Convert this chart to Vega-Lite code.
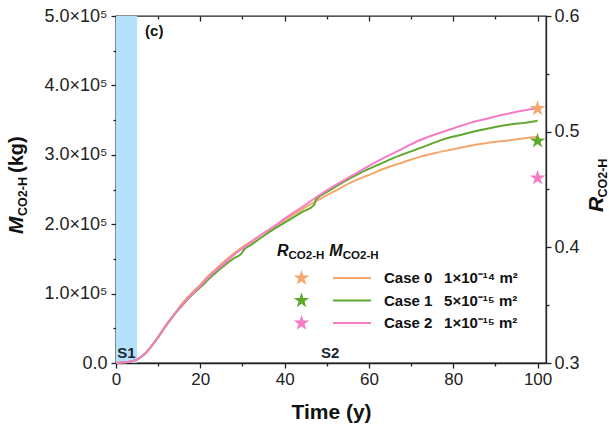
{
  "$schema": "https://vega.github.io/schema/vega-lite/v6.json",
  "width": 430,
  "height": 347,
  "autosize": {"type": "none"},
  "padding": {"left": 116, "top": 16, "right": 63, "bottom": 66},
  "background": "white",
  "config": {
    "font": "Liberation Sans",
    "view": {"stroke": "#222", "strokeWidth": 1.3},
    "axis": {"grid": false, "domainColor": "#222", "tickColor": "#222", "labelColor": "#222", "domainWidth": 1.3, "tickWidth": 1.3, "labelFont": "Liberation Sans", "titleFont": "Liberation Sans", "labelFlush": false}
  },
  "datasets": {
    "lines": [
      {"case": "Case 0", "t": 0, "M": 0}, {"case": "Case 0", "t": 2, "M": 1000}, {"case": "Case 0", "t": 4, "M": 3000}, {"case": "Case 0", "t": 5, "M": 5000}, {"case": "Case 0", "t": 6, "M": 9000}, {"case": "Case 0", "t": 7, "M": 14000}, {"case": "Case 0", "t": 8, "M": 21000}, {"case": "Case 0", "t": 9, "M": 29000}, {"case": "Case 0", "t": 10, "M": 38000}, {"case": "Case 0", "t": 11, "M": 47000}, {"case": "Case 0", "t": 12, "M": 56000}, {"case": "Case 0", "t": 13, "M": 64000}, {"case": "Case 0", "t": 14, "M": 72000}, {"case": "Case 0", "t": 16, "M": 88000}, {"case": "Case 0", "t": 18, "M": 101000}, {"case": "Case 0", "t": 20, "M": 113000}, {"case": "Case 0", "t": 22, "M": 126000}, {"case": "Case 0", "t": 24, "M": 137000}, {"case": "Case 0", "t": 26, "M": 148000}, {"case": "Case 0", "t": 28, "M": 158000}, {"case": "Case 0", "t": 30, "M": 167000}, {"case": "Case 0", "t": 32, "M": 175000}, {"case": "Case 0", "t": 35, "M": 187000}, {"case": "Case 0", "t": 38, "M": 198000}, {"case": "Case 0", "t": 40, "M": 206000}, {"case": "Case 0", "t": 44, "M": 221000}, {"case": "Case 0", "t": 48, "M": 235000}, {"case": "Case 0", "t": 52, "M": 248000}, {"case": "Case 0", "t": 56, "M": 261000}, {"case": "Case 0", "t": 60, "M": 271000}, {"case": "Case 0", "t": 64, "M": 281000}, {"case": "Case 0", "t": 68, "M": 289000}, {"case": "Case 0", "t": 72, "M": 297000}, {"case": "Case 0", "t": 76, "M": 303000}, {"case": "Case 0", "t": 80, "M": 308000}, {"case": "Case 0", "t": 84, "M": 313000}, {"case": "Case 0", "t": 88, "M": 317000}, {"case": "Case 0", "t": 92, "M": 320000}, {"case": "Case 0", "t": 96, "M": 323000}, {"case": "Case 0", "t": 100, "M": 326000},
      {"case": "Case 1", "t": 0, "M": 0}, {"case": "Case 1", "t": 2, "M": 1000}, {"case": "Case 1", "t": 4, "M": 3000}, {"case": "Case 1", "t": 5, "M": 5000}, {"case": "Case 1", "t": 6, "M": 9000}, {"case": "Case 1", "t": 7, "M": 14000}, {"case": "Case 1", "t": 8, "M": 21000}, {"case": "Case 1", "t": 9, "M": 29000}, {"case": "Case 1", "t": 10, "M": 37000}, {"case": "Case 1", "t": 11, "M": 46000}, {"case": "Case 1", "t": 12, "M": 55000}, {"case": "Case 1", "t": 13, "M": 63000}, {"case": "Case 1", "t": 14, "M": 71000}, {"case": "Case 1", "t": 16, "M": 85000}, {"case": "Case 1", "t": 18, "M": 98000}, {"case": "Case 1", "t": 20, "M": 109000}, {"case": "Case 1", "t": 22, "M": 121000}, {"case": "Case 1", "t": 24, "M": 132000}, {"case": "Case 1", "t": 26, "M": 142000}, {"case": "Case 1", "t": 28, "M": 151000}, {"case": "Case 1", "t": 29.8, "M": 158000}, {"case": "Case 1", "t": 30.2, "M": 162000}, {"case": "Case 1", "t": 32, "M": 170000}, {"case": "Case 1", "t": 35, "M": 183000}, {"case": "Case 1", "t": 38, "M": 195000}, {"case": "Case 1", "t": 41, "M": 206000}, {"case": "Case 1", "t": 44, "M": 217000}, {"case": "Case 1", "t": 47, "M": 228000}, {"case": "Case 1", "t": 47.5, "M": 236000}, {"case": "Case 1", "t": 50, "M": 246000}, {"case": "Case 1", "t": 54, "M": 261000}, {"case": "Case 1", "t": 58, "M": 274000}, {"case": "Case 1", "t": 62, "M": 285000}, {"case": "Case 1", "t": 66, "M": 296000}, {"case": "Case 1", "t": 70, "M": 305000}, {"case": "Case 1", "t": 74, "M": 314000}, {"case": "Case 1", "t": 78, "M": 323000}, {"case": "Case 1", "t": 82, "M": 329000}, {"case": "Case 1", "t": 86, "M": 335000}, {"case": "Case 1", "t": 90, "M": 340000}, {"case": "Case 1", "t": 94, "M": 344000}, {"case": "Case 1", "t": 97, "M": 346000}, {"case": "Case 1", "t": 100, "M": 349000},
      {"case": "Case 2", "t": 0, "M": 0}, {"case": "Case 2", "t": 2, "M": 1000}, {"case": "Case 2", "t": 4, "M": 3000}, {"case": "Case 2", "t": 5, "M": 5000}, {"case": "Case 2", "t": 6, "M": 9000}, {"case": "Case 2", "t": 7, "M": 14000}, {"case": "Case 2", "t": 8, "M": 21000}, {"case": "Case 2", "t": 9, "M": 29000}, {"case": "Case 2", "t": 10, "M": 37000}, {"case": "Case 2", "t": 11, "M": 46000}, {"case": "Case 2", "t": 12, "M": 55000}, {"case": "Case 2", "t": 13, "M": 63000}, {"case": "Case 2", "t": 14, "M": 71000}, {"case": "Case 2", "t": 16, "M": 86000}, {"case": "Case 2", "t": 18, "M": 99000}, {"case": "Case 2", "t": 20, "M": 111000}, {"case": "Case 2", "t": 22, "M": 124000}, {"case": "Case 2", "t": 24, "M": 135000}, {"case": "Case 2", "t": 26, "M": 145000}, {"case": "Case 2", "t": 28, "M": 156000}, {"case": "Case 2", "t": 30, "M": 165000}, {"case": "Case 2", "t": 32, "M": 174000}, {"case": "Case 2", "t": 35, "M": 187000}, {"case": "Case 2", "t": 38, "M": 199000}, {"case": "Case 2", "t": 40, "M": 208000}, {"case": "Case 2", "t": 44, "M": 224000}, {"case": "Case 2", "t": 48, "M": 241000}, {"case": "Case 2", "t": 52, "M": 256000}, {"case": "Case 2", "t": 56, "M": 270000}, {"case": "Case 2", "t": 60, "M": 284000}, {"case": "Case 2", "t": 64, "M": 297000}, {"case": "Case 2", "t": 68, "M": 309000}, {"case": "Case 2", "t": 72, "M": 321000}, {"case": "Case 2", "t": 76, "M": 330000}, {"case": "Case 2", "t": 80, "M": 338000}, {"case": "Case 2", "t": 84, "M": 346000}, {"case": "Case 2", "t": 88, "M": 352000}, {"case": "Case 2", "t": 92, "M": 358000}, {"case": "Case 2", "t": 96, "M": 363000}, {"case": "Case 2", "t": 100, "M": 367000}
    ],
    "stars": [
      {"case": "Case 0", "t": 100, "R": 0.52},
      {"case": "Case 1", "t": 100, "R": 0.492},
      {"case": "Case 2", "t": 100, "R": 0.46}
    ],
    "one": [{}]
  },
  "resolve": {"scale": {"y": "independent"}},
  "layer": [
    {
      "resolve": {"axis": {"x": "independent", "y": "independent"}},
      "layer": [
        {
          "data": {"name": "one"},
          "mark": {"type": "rect", "color": "#b5e1fa"},
          "encoding": {
            "x": {"datum": 0, "type": "quantitative", "scale": {"domain": [0, 102], "nice": false, "zero": false},
                  "axis": {"orient": "bottom", "values": [10, 30, 50, 70, 90], "tickSize": 3, "labels": false, "domain": false, "title": null}},
            "x2": {"datum": 5}
          }
        },
        {
          "data": {"name": "lines"},
          "mark": {"type": "line", "strokeWidth": 2, "interpolate": "monotone"},
          "encoding": {
            "x": {"field": "t", "type": "quantitative", "scale": {"domain": [0, 102], "nice": false, "zero": false},
                  "axis": {"orient": "bottom", "values": [0, 20, 40, 60, 80, 100], "tickSize": 5, "labelFontSize": 17, "labelPadding": 3, "title": "Time (y)", "titleFontSize": 21, "titleFontWeight": "bold", "titleColor": "#111", "titlePadding": 14}},
            "y": {"field": "M", "type": "quantitative", "scale": {"domain": [0, 500000], "nice": false, "zero": false},
                  "axis": {"orient": "left", "values": [0, 100000, 200000, 300000, 400000, 500000], "tickSize": 5, "labelFontSize": 18, "labelPadding": 4, "title": null,
                           "labelExpr": "datum.value == 0 ? '0.0' : format(datum.value / 100000, '.1f') + '×10⁵'"}},
            "stroke": {"field": "case", "type": "nominal",
                       "scale": {"domain": ["Case 0", "Case 1", "Case 2"], "range": ["#f4a76c", "#5fa82e", "#f67cc6"]},
                       "legend": {"orient": "none", "legendX": 216, "legendY": 254, "title": null, "padding": 0,
                                  "symbolType": "stroke", "symbolSize": 1444, "symbolStrokeWidth": 2, "clipHeight": 16, "rowPadding": 6.5,
                                  "labelOffset": 12, "labelFont": "Liberation Sans", "labelFontSize": 15, "labelFontWeight": "bold", "labelColor": "#111", "labelLimit": 300,
                                  "labelExpr": "datum.label + '\u2002\u00a0' + (datum.label == 'Case 0' ? '1×10⁻¹⁴ m²' : datum.label == 'Case 1' ? '5×10⁻¹⁵ m²' : '1×10⁻¹⁵ m²')"}}
          }
        },
        {
          "data": {"name": "one"},
          "mark": {"type": "text", "text": "(c)", "fontSize": 15, "fontWeight": "bold", "align": "left", "baseline": "middle", "color": "#111"},
          "encoding": {
            "x": {"datum": 6.9, "type": "quantitative", "axis": null},
            "y": {"datum": 478000, "type": "quantitative",
                  "axis": {"orient": "left", "values": [50000, 150000, 250000, 350000, 450000], "tickSize": 3, "labels": false, "domain": false, "title": null}}
          }
        },
        {
          "data": {"name": "one"},
          "mark": {"type": "text", "text": "S1", "fontSize": 15, "fontWeight": "bold", "align": "left", "baseline": "middle", "color": "#1c2633"},
          "encoding": {
            "x": {"datum": 0.3, "type": "quantitative",
                  "axis": {"orient": "top", "values": [10, 30, 50, 70, 90], "tickSize": -3, "labels": false, "domain": false, "title": null}},
            "y": {"datum": 15100, "type": "quantitative", "axis": null}
          }
        },
        {
          "data": {"name": "one"},
          "mark": {"type": "text", "text": "S2", "fontSize": 15, "fontWeight": "bold", "align": "center", "baseline": "middle", "color": "#1c2633"},
          "encoding": {
            "x": {"datum": 50.8, "type": "quantitative",
                  "axis": {"orient": "top", "values": [0, 20, 40, 60, 80, 100], "tickSize": -5, "labels": false, "domain": false, "title": null}},
            "y": {"datum": 15100, "type": "quantitative", "axis": null}
          }
        },
        {
          "data": {"name": "one"},
          "mark": {"type": "text", "text": "R", "fontSize": 16, "fontWeight": "bold", "fontStyle": "italic", "align": "left", "baseline": "alphabetic", "color": "#111"},
          "encoding": {"x": {"datum": 38.2, "type": "quantitative", "axis": null}, "y": {"datum": 153500, "type": "quantitative", "axis": null}}
        },
        {
          "data": {"name": "one"},
          "mark": {"type": "text", "text": "CO2-H", "fontSize": 11.5, "fontWeight": "bold", "align": "left", "baseline": "alphabetic", "dx": 11.5, "dy": 3, "color": "#111"},
          "encoding": {"x": {"datum": 38.2, "type": "quantitative", "axis": null}, "y": {"datum": 153500, "type": "quantitative", "axis": null}}
        },
        {
          "data": {"name": "one"},
          "mark": {"type": "text", "text": "M", "fontSize": 16, "fontWeight": "bold", "fontStyle": "italic", "align": "left", "baseline": "alphabetic", "color": "#111"},
          "encoding": {"x": {"datum": 50.6, "type": "quantitative", "axis": null}, "y": {"datum": 153500, "type": "quantitative", "axis": null}}
        },
        {
          "data": {"name": "one"},
          "mark": {"type": "text", "text": "CO2-H", "fontSize": 11.5, "fontWeight": "bold", "align": "left", "baseline": "alphabetic", "dx": 13.5, "dy": 3, "color": "#111"},
          "encoding": {"x": {"datum": 50.6, "type": "quantitative", "axis": null}, "y": {"datum": 153500, "type": "quantitative", "axis": null}}
        },
        {
          "data": {"name": "one"},
          "mark": {"type": "text", "text": "M", "fontSize": 21, "fontWeight": "bold", "fontStyle": "italic", "align": "left", "baseline": "alphabetic", "angle": 270, "color": "#111"},
          "encoding": {"x": {"datum": -22.06, "type": "quantitative", "axis": null}, "y": {"datum": 185900, "type": "quantitative", "axis": null}}
        },
        {
          "data": {"name": "one"},
          "mark": {"type": "text", "text": "CO2-H", "fontSize": 12.5, "fontWeight": "bold", "align": "left", "baseline": "alphabetic", "angle": 270, "dx": 18, "dy": 4, "color": "#111"},
          "encoding": {"x": {"datum": -22.06, "type": "quantitative", "axis": null}, "y": {"datum": 185900, "type": "quantitative", "axis": null}}
        },
        {
          "data": {"name": "one"},
          "mark": {"type": "text", "text": "(kg)", "fontSize": 20, "fontWeight": "bold", "align": "left", "baseline": "alphabetic", "angle": 270, "dx": 61, "color": "#111"},
          "encoding": {"x": {"datum": -22.06, "type": "quantitative", "axis": null}, "y": {"datum": 185900, "type": "quantitative", "axis": null}}
        }
      ]
    },
    {
      "resolve": {"axis": {"y": "independent"}},
      "layer": [
        {
          "data": {"name": "stars"},
          "mark": {"type": "point", "filled": true, "opacity": 1, "strokeWidth": 0, "size": 270,
                   "shape": "M0,-1L0.2245,-0.309L0.951,-0.309L0.363,0.118L0.588,0.809L0,0.382L-0.588,0.809L-0.363,0.118L-0.951,-0.309L-0.2245,-0.309Z"},
          "encoding": {
            "x": {"field": "t", "type": "quantitative", "axis": null},
            "y": {"field": "R", "type": "quantitative", "scale": {"domain": [0.3, 0.6], "nice": false, "zero": false},
                  "axis": {"orient": "right", "values": [0.3, 0.4, 0.5, 0.6], "format": ".1f", "tickSize": 5, "labelFontSize": 18, "labelPadding": 3, "title": null}},
            "fill": {"field": "case", "type": "nominal",
                     "scale": {"domain": ["Case 2", "Case 1", "Case 0"], "range": ["#f67cc6", "#5fa82e", "#f4a76c"]},
                     "legend": {"orient": "none", "legendX": 177, "legendY": 254, "title": null, "padding": 0, "values": ["Case 0", "Case 1", "Case 2"],
                                "symbolType": "M0,-1L0.2245,-0.309L0.951,-0.309L0.363,0.118L0.588,0.809L0,0.382L-0.588,0.809L-0.363,0.118L-0.951,-0.309L-0.2245,-0.309Z",
                                "symbolSize": 270, "symbolStrokeWidth": 0, "clipHeight": 16, "rowPadding": 6.5, "labelOffset": 0, "labelExpr": "''"}}
          }
        },
        {
          "data": {"name": "one"},
          "mark": {"type": "text", "text": "R", "fontSize": 21, "fontWeight": "bold", "fontStyle": "italic", "align": "left", "baseline": "alphabetic", "angle": 270, "color": "#111"},
          "encoding": {
            "x": {"datum": 115.5, "type": "quantitative", "axis": null},
            "y": {"datum": 0.4305, "type": "quantitative",
                  "axis": {"orient": "right", "values": [0.35, 0.45, 0.55], "tickSize": 3, "labels": false, "domain": false, "title": null}}
          }
        },
        {
          "data": {"name": "one"},
          "mark": {"type": "text", "text": "CO2-H", "fontSize": 12.5, "fontWeight": "bold", "align": "left", "baseline": "alphabetic", "angle": 270, "dx": 14.5, "dy": 4, "color": "#111"},
          "encoding": {"x": {"datum": 115.5, "type": "quantitative", "axis": null}, "y": {"datum": 0.4305, "type": "quantitative", "axis": null}}
        }
      ]
    }
  ]
}
